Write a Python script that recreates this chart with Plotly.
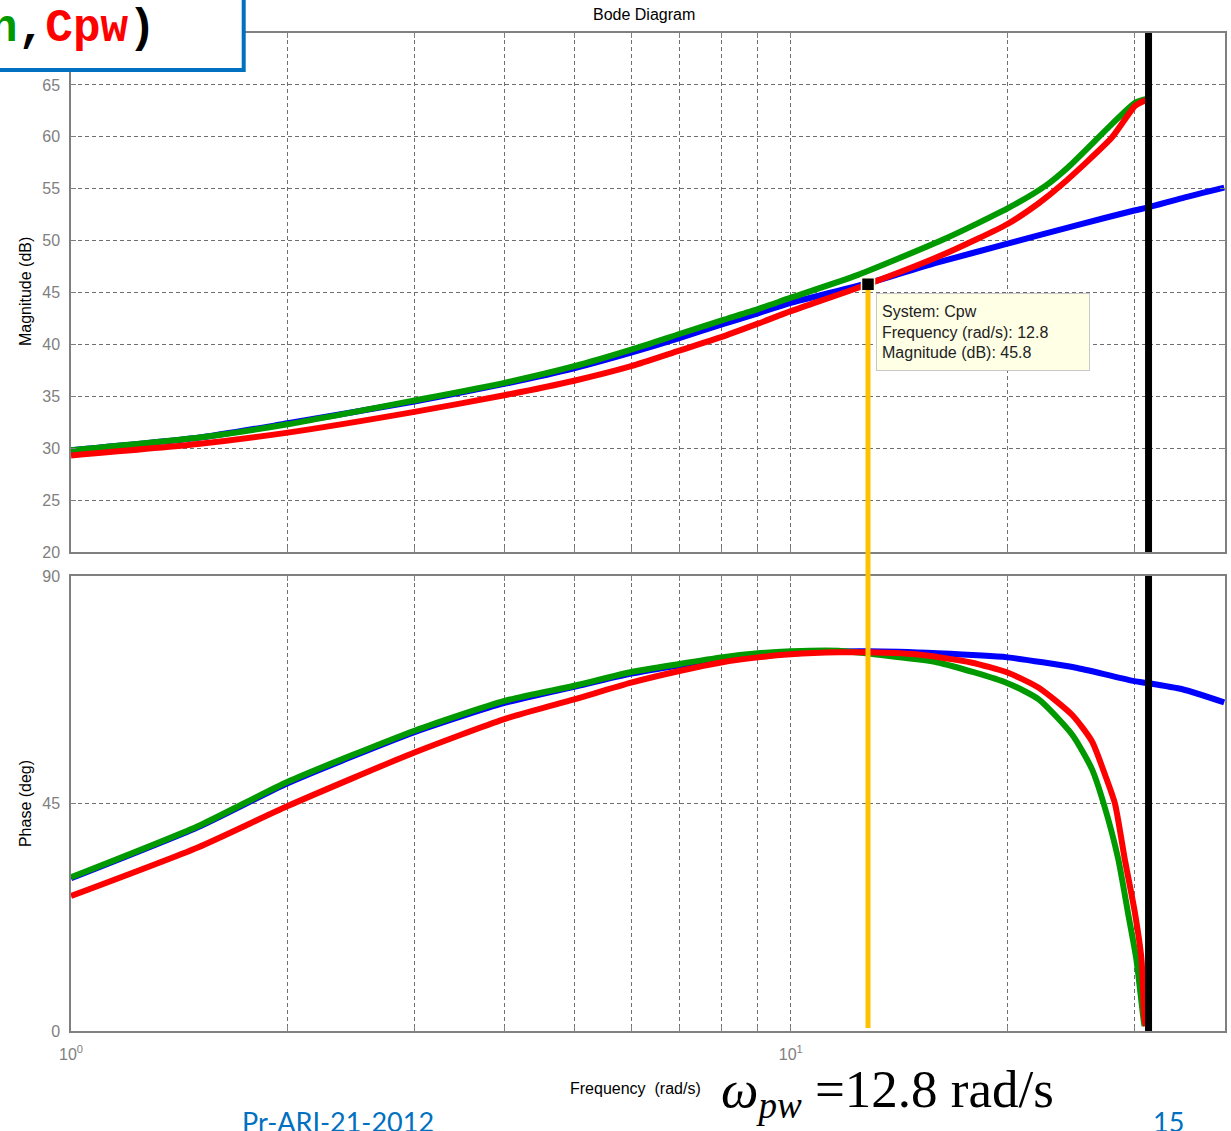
import math
import plotly.graph_objects as go

# ---------------- data ----------------
# Blue series (Cp)
freq_cp = [1, 1.5, 2, 3, 4, 5, 6, 7, 8, 9, 10, 12.8, 16, 20, 25, 30, 31.4, 35, 40]
mag_cp = [29.8, 31.0, 32.4, 34.5, 36.2, 37.7, 39.2, 40.6, 41.9, 43.0, 44.0, 45.9, 47.9, 49.7, 51.5, 52.9, 53.2, 54.1, 55.1]
phase_cp = [30.2, 40.3, 49.0, 59.1, 64.9, 68.1, 70.7, 72.3, 73.5, 74.3, 74.8, 75.1, 74.7, 73.9, 71.8, 69.2, 68.8, 67.6, 65.0]

# Green series (Cpn)
freq_cpn_mag = [1, 1.5, 2, 3, 4, 5, 6, 7, 8, 9, 10, 12.4, 16.4, 20, 22.6, 24.3, 27.9, 30.1, 31.4]
mag_cpn = [29.8, 31.0, 32.3, 34.6, 36.3, 37.9, 39.5, 41.0, 42.3, 43.4, 44.5, 46.7, 50.2, 53.1, 55.3, 57.1, 61.2, 63.3, 63.7]
freq_cpn_ph = [1, 1.5, 2, 3, 4, 5, 6, 7, 8, 9, 10, 11.65, 13.25, 16, 20, 22.1, 24.6, 26.2, 27.2, 28.5, 29.4, 30.2, 30.9, 31.0]
phase_cpn = [30.4, 40.5, 49.3, 59.4, 65.3, 68.3, 71.0, 72.6, 73.9, 74.7, 75.1, 75.2, 74.4, 72.9, 68.8, 65.6, 58.6, 51.8, 45.0, 34.0, 23.4, 14.2, 2.3, 1.0]

# Red series (Cpw)
freq_cpw_mag = [1, 1.5, 2, 3, 4, 5, 6, 7, 8, 9, 10, 12.8, 16.4, 20, 22.1, 23.8, 27.9, 30.1, 31.1, 31.4]
mag_cpw = [29.3, 30.4, 31.5, 33.5, 35.1, 36.5, 37.9, 39.4, 40.7, 42.0, 43.2, 45.8, 48.75, 51.6, 53.6, 55.4, 59.9, 63.0, 63.5, 63.5]
freq_cpw_ph = [1, 1.5, 2, 3, 4, 5, 6, 7, 8, 9, 10, 11.65, 12.8, 14.9, 17.8, 20, 22.1, 24.6, 26.2, 27.3, 28.2, 29.1, 30.06, 30.7, 31.0, 31.15]
phase_cpw = [26.7, 36.3, 44.5, 55.1, 61.7, 65.6, 68.9, 71.2, 72.9, 73.9, 74.5, 74.9, 74.9, 74.5, 72.9, 70.9, 67.9, 62.5, 57.3, 50.8, 45.0, 34.0, 23.4, 14.2, 2.3, 1.0]

# Data cursor and Nyquist line
marker_freq = 12.8
marker_mag = 45.8
nyquist_freq = 31.4

# Axis ticks
x_tickvals = [1, 2, 3, 4, 5, 6, 7, 8, 9, 10, 20, 30]
x_ticktext = ["10<sup>0</sup>", "", "", "", "", "", "", "", "", "10<sup>1</sup>", "", ""]
mag_ticks = [20, 25, 30, 35, 40, 45, 50, 55, 60, 65]
phase_ticks = [0, 45, 90]

# ---------------- figure ----------------
W, H = 1231, 1131
L, R, T, B = 71, 4, 33, 100
plot_h = H - T - B


def py(px):
    """pixel row -> paper y"""
    return (H - B - px) / plot_h


def pxx(px):
    return (px - L) / (W - L - R)


BLUE, GREEN, RED = "#0000FF", "#009A00", "#FF0000"
LW = 6
SM = 0.6

fig = go.Figure()
fig.add_trace(go.Scatter(x=freq_cp, y=mag_cp, mode="lines", line=dict(color=BLUE, width=LW, shape="spline", smoothing=SM), xaxis="x", yaxis="y"))
fig.add_trace(go.Scatter(x=freq_cpn_mag, y=mag_cpn, mode="lines", line=dict(color=GREEN, width=LW, shape="spline", smoothing=SM), xaxis="x", yaxis="y"))
fig.add_trace(go.Scatter(x=freq_cpw_mag, y=mag_cpw, mode="lines", line=dict(color=RED, width=LW, shape="spline", smoothing=SM), xaxis="x", yaxis="y"))

fig.add_trace(go.Scatter(x=freq_cp, y=phase_cp, mode="lines", line=dict(color=BLUE, width=LW, shape="spline", smoothing=SM), xaxis="x2", yaxis="y2"))
fig.add_trace(go.Scatter(x=freq_cpn_ph, y=phase_cpn, mode="lines", line=dict(color=GREEN, width=LW, shape="spline", smoothing=SM), xaxis="x2", yaxis="y2"))
fig.add_trace(go.Scatter(x=freq_cpw_ph, y=phase_cpw, mode="lines", line=dict(color=RED, width=LW, shape="spline", smoothing=SM), xaxis="x2", yaxis="y2"))

# yellow data-cursor line (from marker down to phase axis)
fig.add_shape(type="line", xref="x", yref="paper", x0=marker_freq, x1=marker_freq,
              y0=py(1028), y1=py(290), line=dict(color="#FFC000", width=5), layer="above")

# Nyquist line in both panels
for yr in ["y domain", "y2 domain"]:
    fig.add_shape(type="line", xref="x", yref=yr, x0=nyquist_freq, x1=nyquist_freq,
                  y0=0, y1=1, line=dict(color="black", width=7), layer="above")

# data cursor marker
fig.add_trace(go.Scatter(x=[marker_freq], y=[marker_mag], mode="markers",
                         marker=dict(symbol="square", size=13, color="black",
                                     line=dict(color="#FFFFE8", width=1.5)),
                         xaxis="x", yaxis="y"))

tickfont = dict(family="Liberation Sans", size=16, color="#808080")
grid = dict(showgrid=True, gridcolor="#6e6e6e", griddash="4px,3px", gridwidth=1,
            showline=True, linecolor="#808080", linewidth=1.5, mirror="ticks",
            ticks="inside", ticklen=5, tickcolor="#808080", zeroline=False)

xr = [0, math.log10(40.1)]
fig.update_layout(
    width=W, height=H,
    margin=dict(l=L, r=R, t=T, b=B),
    paper_bgcolor="white", plot_bgcolor="white",
    showlegend=False,
    xaxis=dict(type="log", range=xr, domain=[0, 1], anchor="y",
               tickvals=x_tickvals, showticklabels=False, **grid),
    yaxis=dict(range=[20, 70], domain=[py(552), 1], anchor="x",
               tickvals=mag_ticks, tickfont=tickfont, ticklabelstandoff=6, **grid),
    xaxis2=dict(type="log", range=xr, domain=[0, 1], anchor="y2", matches="x",
                tickvals=x_tickvals, ticktext=x_ticktext, tickfont=tickfont,
                ticklabelstandoff=8, **grid),
    yaxis2=dict(range=[0, 90], domain=[0, py(576)], anchor="x2",
                tickvals=phase_ticks, tickfont=tickfont, ticklabelstandoff=6, **grid),
)

ann = []
labfont = dict(family="Liberation Sans", size=16, color="black")
ann.append(dict(text="Bode Diagram", xref="paper", yref="paper", x=pxx(645), y=py(14),
                showarrow=False, font=labfont, xanchor="center", yanchor="middle"))
ann.append(dict(text="Magnitude (dB)", xref="paper", yref="paper", x=pxx(25), y=py(292),
                showarrow=False, font=labfont, textangle=-90, xanchor="center", yanchor="middle"))
ann.append(dict(text="Phase (deg)", xref="paper", yref="paper", x=pxx(25), y=py(804),
                showarrow=False, font=labfont, textangle=-90, xanchor="center", yanchor="middle"))
ann.append(dict(text="Frequency  (rad/s)", xref="paper", yref="paper", x=pxx(569), y=py(1088),
                showarrow=False, font=labfont, xanchor="left", yanchor="middle"))

# tooltip
ann.append(dict(text="System: Cpw<br>Frequency (rad/s): 12.8<br>Magnitude (dB): 45.8",
                xref="paper", yref="paper", x=pxx(877), y=py(293), xanchor="left", yanchor="top",
                showarrow=False, align="left", bgcolor="#FFFFE6", bordercolor="#C8C8C8",
                borderwidth=1, borderpad=5, width=202, height=66,
                font=dict(family="Liberation Sans", size=16, color="#222222")))

# omega annotation
ann.append(dict(text="<i>ω</i><sub><i>pw</i></sub> =12.8 rad/s", xref="paper", yref="paper",
                x=pxx(720), y=py(1093), xanchor="left", yanchor="middle", showarrow=False,
                font=dict(family="Liberation Serif", size=53, color="black")))

# footer
ann.append(dict(text="Pr-ARI-21-2012", xref="paper", yref="paper", x=pxx(240), y=py(1121),
                xanchor="left", yanchor="middle", showarrow=False,
                font=dict(family="Lato", size=27, color="#0070C0")))
ann.append(dict(text="15", xref="paper", yref="paper", x=pxx(1153), y=py(1121),
                xanchor="left", yanchor="middle", showarrow=False,
                font=dict(family="Lato", size=27, color="#0070C0")))

# code box top-left
fig.add_shape(type="rect", xref="paper", yref="paper", x0=pxx(-60), x1=pxx(244),
              y0=py(70), y1=py(-20), line=dict(color="#0070C0", width=4), fillcolor="white",
              layer="above")
ann.append(dict(text="<b>bode(<span style='color:#0000FF'>Cp</span>,"
                     "<span style='color:#009A00'>Cpn</span>,"
                     "<span style='color:#FF0000'>Cpw</span>)</b>",
                xref="paper", yref="paper", x=pxx(158), y=py(29), xanchor="right", yanchor="middle",
                showarrow=False, font=dict(family="Liberation Mono", size=46, color="black")))

fig.update_layout(annotations=ann)
fig.write_html("out.html", config={"displayModeBar": False},
               post_script="document.body.style.margin='0px';")
